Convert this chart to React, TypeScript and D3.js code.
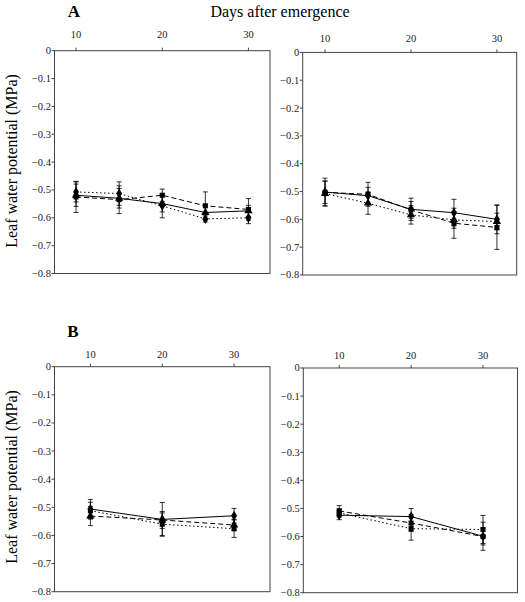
import React from "react";
import * as d3 from "d3";

// ---------- data ----------
const daysA = [10, 15, 20, 25, 30];
const daysB = [10, 20, 30];
const xTicks = [10, 20, 30];
const yTicks = [0, -0.1, -0.2, -0.3, -0.4, -0.5, -0.6, -0.7, -0.8];

// Panel A, left
const aLeftSolid = [-0.519, -0.53, -0.549, -0.581, -0.575];
const aLeftSolidErr = [0.04, 0.035, 0.03, 0.025, 0.02];
const aLeftDashed = [-0.525, -0.535, -0.519, -0.557, -0.57];
const aLeftDashedErr = [0.056, 0.05, 0.022, 0.05, 0.039];
const aLeftDotted = [-0.507, -0.513, -0.557, -0.604, -0.6];
const aLeftDottedErr = [0.036, 0.042, 0.043, 0.011, 0.021];

// Panel A, right
const aRightSolid = [-0.502, -0.515, -0.564, -0.576, -0.6];
const aRightSolidErr = [0.05, 0.03, 0.04, 0.048, 0.052];
const aRightDashed = [-0.503, -0.51, -0.566, -0.614, -0.629];
const aRightDashedErr = [0.04, 0.043, 0.03, 0.054, 0.079];
const aRightDotted = [-0.507, -0.542, -0.584, -0.602, -0.608];
const aRightDottedErr = [0.045, 0.04, 0.033, 0.03, 0.03];

// Panel B, left
const bLeftSolid = [-0.506, -0.543, -0.53];
const bLeftSolidErr = [0.034, 0.06, 0.026];
const bLeftDashed = [-0.531, -0.545, -0.563];
const bLeftDashedErr = [0.034, 0.03, 0.02];
const bLeftDotted = [-0.512, -0.56, -0.576];
const bLeftDottedErr = [0.03, 0.04, 0.031];

// Panel B, right
const bRightSolid = [-0.524, -0.529, -0.599];
const bRightSolidErr = [0.016, 0.029, 0.05];
const bRightDashed = [-0.509, -0.552, -0.6];
const bRightDashedErr = [0.019, 0.03, 0.03];
const bRightDotted = [-0.516, -0.572, -0.575];
const bRightDottedErr = [0.015, 0.041, 0.05];

// ---------- layout ----------
const FONT = "'Liberation Serif', 'Times New Roman', serif";

type Series = { values: number[]; err: number[]; dash: string | null; symbol: d3.SymbolType };

type Panel = {
  x0: number; y0: number; x1: number; y1: number;
  domain: [number, number];
  days: number[];
  series: Series[];
  tickLabelGap: number;
};

const panels: Panel[] = [
  {
    x0: 54.5, y0: 50.7, x1: 270, y1: 273.5, domain: [7.5, 32.5], days: daysA, tickLabelGap: 13,
    series: [
      { values: aLeftSolid, err: aLeftSolidErr, dash: null, symbol: d3.symbolTriangle },
      { values: aLeftDashed, err: aLeftDashedErr, dash: "5,3", symbol: d3.symbolSquare },
      { values: aLeftDotted, err: aLeftDottedErr, dash: "1.5,2.5", symbol: d3.symbolDiamond },
    ],
  },
  {
    x0: 302.7, y0: 52.4, x1: 516.7, y1: 275, domain: [7.4, 32.3], days: daysA, tickLabelGap: 10,
    series: [
      { values: aRightSolid, err: aRightSolidErr, dash: null, symbol: d3.symbolDiamond },
      { values: aRightDashed, err: aRightDashedErr, dash: "5,3", symbol: d3.symbolSquare },
      { values: aRightDotted, err: aRightDottedErr, dash: "1.5,2.5", symbol: d3.symbolTriangle },
    ],
  },
  {
    x0: 54.5, y0: 366.7, x1: 270, y1: 591.7, domain: [5, 35], days: daysB, tickLabelGap: 9,
    series: [
      { values: bLeftSolid, err: bLeftSolidErr, dash: null, symbol: d3.symbolDiamond },
      { values: bLeftDashed, err: bLeftDashedErr, dash: "5,3", symbol: d3.symbolTriangle },
      { values: bLeftDotted, err: bLeftDottedErr, dash: "1.5,2.5", symbol: d3.symbolSquare },
    ],
  },
  {
    x0: 303.3, y0: 368, x1: 517.5, y1: 592.7, domain: [5, 34.8], days: daysB, tickLabelGap: 9,
    series: [
      { values: bRightSolid, err: bRightSolidErr, dash: null, symbol: d3.symbolDiamond },
      { values: bRightDashed, err: bRightDashedErr, dash: "5,3", symbol: d3.symbolSquare },
      { values: bRightDotted, err: bRightDottedErr, dash: "1.5,2.5", symbol: d3.symbolSquare },
    ],
  },
];

function PanelView({ p }: { p: Panel }) {
  const x = d3.scaleLinear().domain(p.domain).range([p.x0, p.x1]);
  const y = d3.scaleLinear().domain([0, -0.8]).range([p.y0, p.y1]);
  const line = d3
    .line<number>()
    .x((_, i) => x(p.days[i]))
    .y((v) => y(v));
  const fmt = (v: number) => (v === 0 ? "0" : d3.format(".1f")(v));
  return (
    <g>
      <rect x={p.x0} y={p.y0} width={p.x1 - p.x0} height={p.y1 - p.y0} fill="#fff" stroke="#444" strokeWidth={1} />
      {yTicks.map((t) => (
        <g key={"y" + t}>
          <line x1={p.x0 - 3} x2={p.x0} y1={y(t)} y2={y(t)} stroke="#444" strokeWidth={1} />
          <text x={p.x0 - 3.5} y={y(t)} dy="0.33em" textAnchor="end" fontSize={10.5} fontFamily={FONT} fill="#222">
            {fmt(t)}
          </text>
        </g>
      ))}
      {xTicks.map((t) => (
        <g key={"x" + t}>
          <line x1={x(t)} x2={x(t)} y1={p.y0 - 3} y2={p.y0} stroke="#444" strokeWidth={1} />
          <text x={x(t)} y={p.y0 - p.tickLabelGap} textAnchor="middle" fontSize={10.5} fontFamily={FONT} fill="#222">
            {t}
          </text>
        </g>
      ))}
      {p.series.map((s, si) => (
        <g key={"s" + si}>
          <path
            d={line(s.values) || ""}
            fill="none"
            stroke="#000"
            strokeWidth={1}
            strokeDasharray={s.dash || undefined}
          />
          {s.values.map((v, i) => {
            const cx = x(p.days[i]);
            const top = y(v + s.err[i]);
            const bot = y(v - s.err[i]);
            return (
              <g key={i}>
                <line x1={cx} x2={cx} y1={top} y2={bot} stroke="#000" strokeWidth={0.8} />
                <line x1={cx - 2.5} x2={cx + 2.5} y1={top} y2={top} stroke="#000" strokeWidth={0.8} />
                <line x1={cx - 2.5} x2={cx + 2.5} y1={bot} y2={bot} stroke="#000" strokeWidth={0.8} />
              </g>
            );
          })}
          {s.values.map((v, i) => (
            <path
              key={"m" + i}
              d={d3.symbol().type(s.symbol).size(s.symbol === d3.symbolSquare ? 26 : 30)() || ""}
              transform={`translate(${x(p.days[i])},${y(v)})`}
              fill="#000"
            />
          ))}
        </g>
      ))}
    </g>
  );
}

export default function App() {
  return (
    <svg width={525} height={602} style={{ position: "absolute", left: 0, top: 0, background: "#fff" }}>
      <rect x={0} y={0} width={525} height={602} fill="#fff" />
      <text x={74} y={17} textAnchor="middle" fontSize={17} fontWeight="bold" fontFamily={FONT}>A</text>
      <text x={280} y={17} textAnchor="middle" fontSize={16} fontFamily={FONT}>Days after emergence</text>
      <text x={73} y={337} textAnchor="middle" fontSize={17} fontWeight="bold" fontFamily={FONT}>B</text>
      <text transform="translate(17,161) rotate(-90)" textAnchor="middle" fontSize={16} fontFamily={FONT}>
        Leaf water potential (MPa)
      </text>
      <text transform="translate(17,477) rotate(-90)" textAnchor="middle" fontSize={16} fontFamily={FONT}>
        Leaf water potential (MPa)
      </text>
      {panels.map((p, i) => (
        <PanelView key={i} p={p} />
      ))}
    </svg>
  );
}
